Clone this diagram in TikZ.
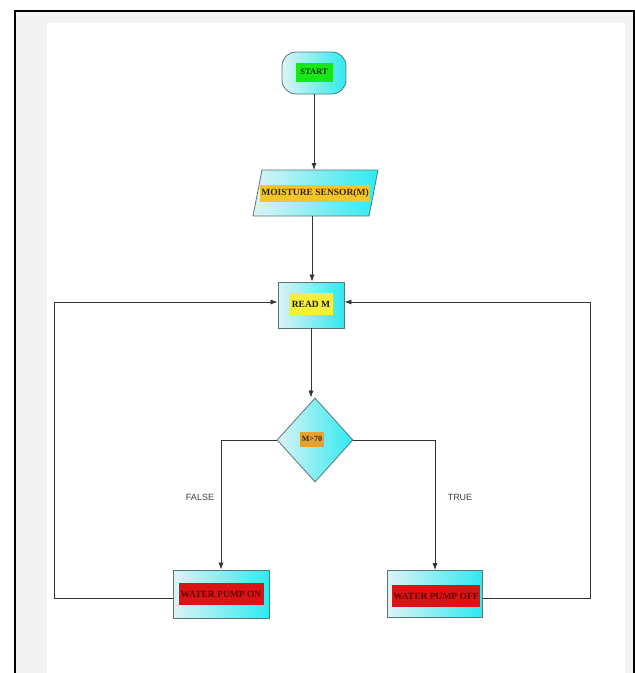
\documentclass[tikz,border=0pt]{standalone}
\usepackage{fontspec}
\setmainfont{Liberation Serif}
\setsansfont{Liberation Sans}
\usetikzlibrary{shapes.geometric,arrows.meta}
\definecolor{boxline}{HTML}{56787C}
\definecolor{cyanA}{HTML}{DDF3F5}
\definecolor{cyanB}{HTML}{2EEAF0}
\definecolor{lbgreen}{HTML}{18E818}
\definecolor{lbyellow}{HTML}{F2C62A}
\definecolor{lbyel2}{HTML}{F2F03A}
\definecolor{lborange}{HTML}{E8A02E}
\definecolor{lbred}{HTML}{DA1414}
\definecolor{edge}{HTML}{333333}
\definecolor{framegray}{HTML}{F3F3F3}
\tikzset{
  shapebox/.style={draw=boxline, line width=0.8pt, left color=cyanA, right color=cyanB, inner sep=0pt},
  lbl/.style={font=\bfseries\fontsize{9.5}{10}\selectfont, inner sep=1.5pt},
  conn/.style={draw=edge, line width=0.75pt, -{Latex[length=7pt,width=5pt]}},
  tag/.style={font=\sffamily\fontsize{9}{10}\selectfont, text=black!75}
}
\begin{document}
\begin{tikzpicture}[x=1pt,y=-1pt]
\useasboundingbox (0,0) rectangle (635,673);
\fill[white] (0,0) rectangle (635,673);
\fill[framegray] (15,11) rectangle (634,673);
\fill[white] (47,23) rectangle (625,673);
\draw[black, line width=2pt] (15,673) -- (15,11) -- (634,11) -- (634,673);

% nodes
\node[shapebox, rounded corners=14pt, minimum width=64pt, minimum height=42pt] (start) at (314,73) {};
\node[lbl, font=\bfseries\fontsize{8.5}{9}\selectfont, fill=lbgreen, text=black!80!green, minimum width=37pt, minimum height=19pt] (startl) at (314,72) {START};

\path[shapebox] (253,216) -- (262,170) -- (378,170) -- (369,216) -- cycle;
\coordinate (sensortop) at (315,170);
\coordinate (sensorbot) at (312,216);
\node[lbl, fill=lbyellow, text=black!70!brown, minimum height=17pt, inner xsep=1pt] (sensorl) at (315,193) {MOISTURE SENSOR(M)};

\node[shapebox, minimum width=66pt, minimum height=46pt] (read) at (311,305) {};
\node[lbl, fill=lbyel2, text=black!80!brown, minimum width=44pt, minimum height=22pt] (readl) at (311,304) {READ M};

\node[shapebox, diamond, minimum width=76pt, minimum height=84pt] (dec) at (315,440) {};
\node[lbl, font=\bfseries\fontsize{8}{9}\selectfont, fill=lborange, text=black!70!brown, minimum width=23pt, minimum height=15pt] (decl) at (312,439) {M>70};

\node[shapebox, minimum width=96pt, minimum height=48pt] (on) at (221,594) {};
\node[lbl, fill=lbred, text=black!60!red, minimum width=85pt, minimum height=22pt, inner xsep=0.5pt] (onl) at (221,594) {WATER PUMP ON};

\node[shapebox, minimum width=95pt, minimum height=47pt] (off) at (435,594) {};
\node[lbl, fill=lbred, text=black!60!red, minimum width=88pt, minimum height=22pt, inner xsep=0.5pt] (offl) at (436,596) {WATER PUMP OFF};

\coordinate (lc) at (54,598);
\coordinate (lt) at (54,302);
\coordinate (rc) at (590,598);
\coordinate (rt) at (590,302);

% connectors
\draw[conn] (start.south) -- (start.south |- sensortop);
\draw[conn] (sensorbot) -- (sensorbot |- read.north);
\draw[conn] (read.south) -- (read.south |- dec.north);
\draw[conn] (dec.west) -| (on.north);
\draw[conn] (dec.east) -| (off.north);
\draw[conn] (on.west |- lc) -- (lc) -- (lt) -- (read.west |- lt);
\draw[conn] (off.east |- rc) -- (rc) -- (rt) -- (read.east |- rt);

\node[tag] (false) at (200,497) {FALSE};
\node[tag] (true) at (460,497) {TRUE};
\end{tikzpicture}
\end{document}
